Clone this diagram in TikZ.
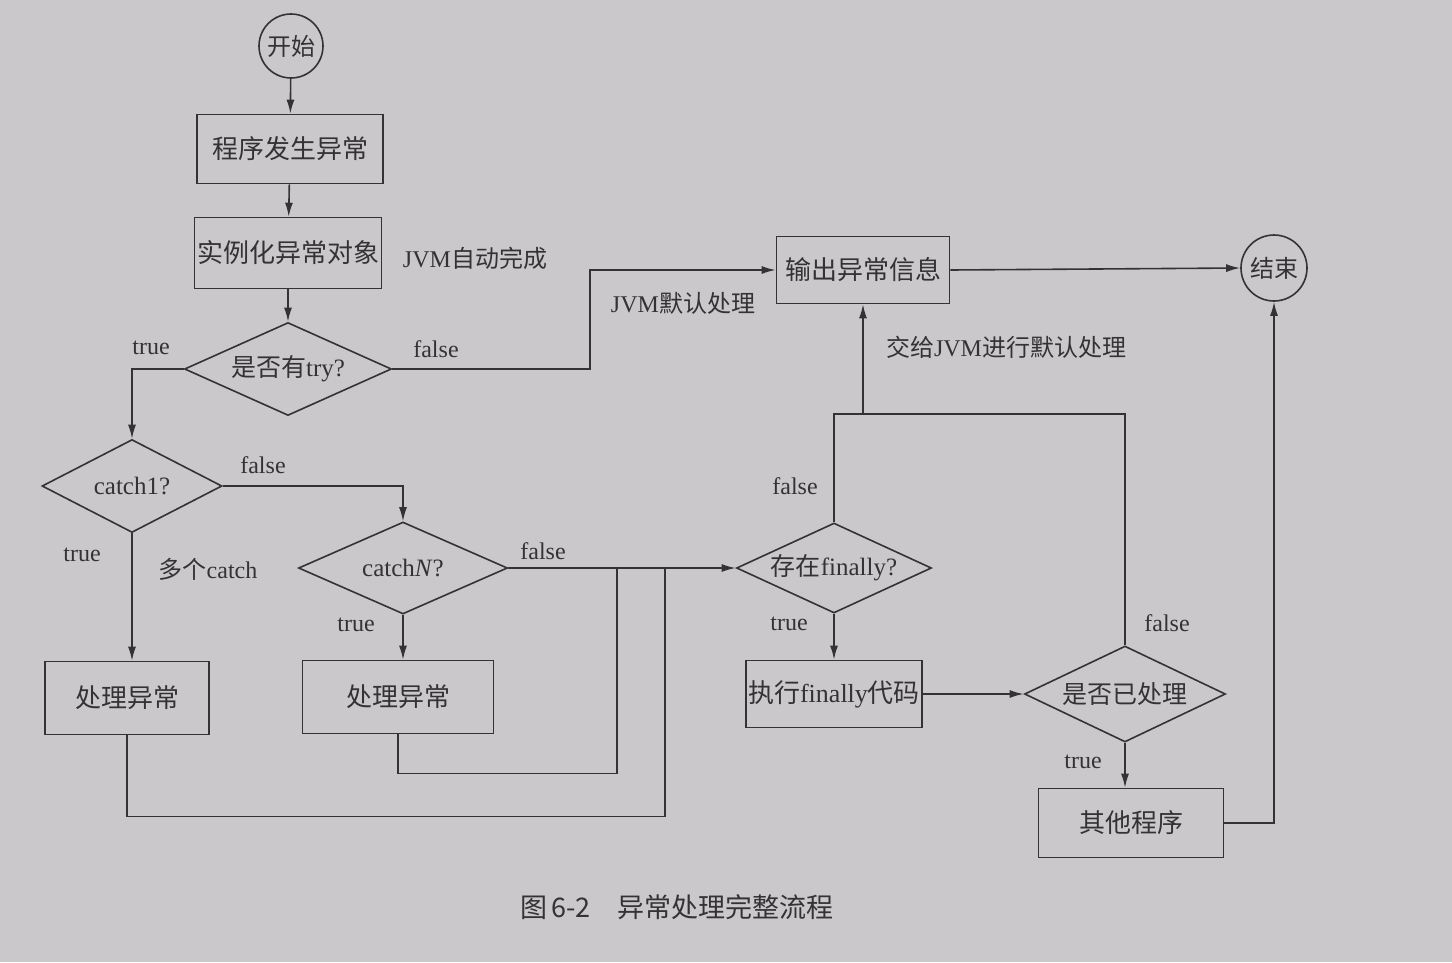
\documentclass[tikz,border=0pt]{standalone}
\usepackage{fontspec}
\setmainfont{Liberation Serif}
\newfontfamily\cjk{Noto Sans CJK SC}
\usetikzlibrary{shapes.geometric,arrows.meta}
\definecolor{paper}{RGB}{202,200,202}
\definecolor{ink}{RGB}{52,50,52}
\begin{document}
\begin{tikzpicture}[x=1pt,y=-1pt,
  line/.style={draw=ink, line width=1.6pt},
  arr/.style={line, -{Latex[length=14pt,width=8pt]}},
  box/.style={rectangle, draw=ink, line width=1.6pt, inner sep=0pt, text=ink, font=\fontsize{26}{30}\selectfont},
  dia/.style={diamond, draw=ink, line width=1.6pt, inner sep=0pt, text=ink, font=\fontsize{25}{30}\selectfont},
  circ/.style={circle, draw=ink, line width=1.6pt, inner sep=0pt, text=ink, font=\fontsize{24}{28}\selectfont},
  lab/.style={inner sep=0pt, text=ink, font=\fontsize{24}{28}\selectfont}]
\fill[paper] (0,0) rectangle (1452,962);
\useasboundingbox (0,0) rectangle (1452,962);

% nodes
\node[circ, minimum size=64pt] (start) at (291,46) {\cjk 开始};
\node[box, minimum width=186pt, minimum height=69pt] (p1) at (290,149) {\cjk 程序发生异常};
\node[box, minimum width=187pt, minimum height=71pt] (p2) at (288,253) {\cjk 实例化异常对象};
\node[dia, aspect=2.2, minimum width=207pt, minimum height=93pt] (dtry) at (288,369) {{\cjk 是否有}try?};
\node[box, minimum width=173pt, minimum height=67pt] (out) at (863,270) {\cjk 输出异常信息};
\node[circ, minimum size=66pt] (end) at (1274,268) {\cjk 结束};
\node[dia, aspect=1.9, minimum width=180pt, minimum height=93pt] (c1) at (132,486) {catch1?};
\node[box, minimum width=164pt, minimum height=73pt] (h1) at (127,698) {\cjk 处理异常};
\node[dia, aspect=2.25, minimum width=209pt, minimum height=92pt] (cN) at (403,568) {catch\textit{N}?};
\node[box, minimum width=191pt, minimum height=73pt] (h2) at (398,697) {\cjk 处理异常};
\node[dia, aspect=2.15, minimum width=195pt, minimum height=90pt] (fin) at (834,568) {{\cjk 存在}finally?};
\node[box, minimum width=176pt, minimum height=67pt] (exe) at (834,694) {{\cjk 执行}finally{\cjk 代码}};
\node[dia, aspect=2.1, minimum width=201pt, minimum height=96pt] (done) at (1125,694) {\cjk 是否已处理};
\node[box, minimum width=185pt, minimum height=69pt] (other) at (1131,823) {\cjk 其他程序};

% helper coordinates
\coordinate (k1) at (590,369);
\coordinate (j1) at (617,568);
\coordinate (j2) at (665,568);
\coordinate (t) at (834,414);

% connectors
\draw[arr] (start) -- (p1);
\draw[arr] (p1) -- (p2);
\draw[arr] (p2) -- (dtry);
\draw[arr] (dtry.east) -- (k1) |- (out.west);
\draw[arr] (out.east) -- (end.west);
\draw[arr] (dtry.west) -| (c1.north);
\draw[arr] (c1.east) -| (cN.north);
\draw[arr] (c1.south) -- (c1.south |- h1.north);
\draw[arr] (cN.east) -- (fin.west);
\draw[arr] (cN.south) -- (cN.south |- h2.north);
\draw[line] (h2.south) -- ++(0,39) -| (j1);
\draw[line] (h1.south) -- ++(0,81) -| (j2);
\draw[line] (fin.north) -- (t) -- (t -| done.north) -- (done.north);
\draw[arr] (out.south |- t) -- (out.south);
\draw[arr] (fin.south) -- (exe.north);
\draw[arr] (exe.east) -- (done.west);
\draw[arr] (done.south) -- (done.south |- other.north);
\draw[arr] (other.east) -| (end.south);

% labels
\node[lab] (l1) at (475,258) {JVM{\cjk 自动完成}};
\node[lab] (l2) at (151,348) {true};
\node[lab] (l3) at (436,349) {false};
\node[lab] (l4) at (683,303) {JVM{\cjk 默认处理}};
\node[lab] (l5) at (263,465) {false};
\node[lab] (l6) at (82,555) {true};
\node[lab] (l7) at (208,569) {{\cjk 多个}catch};
\node[lab] (l8) at (543,551) {false};
\node[lab] (l9) at (356,625) {true};
\node[lab] (l10) at (795,486) {false};
\node[lab] (l11) at (1006,347) {{\cjk 交给}JVM{\cjk 进行默认处理}};
\node[lab] (l12) at (789,624) {true};
\node[lab] (l13) at (1167,623) {false};
\node[lab] (l14) at (1083,762) {true};
\node[inner sep=0pt, text=ink, font=\cjk\fontsize{27}{30}\selectfont] (cap) at (677,907) {图\,6-2\quad 异常处理完整流程};
\end{tikzpicture}
\end{document}
